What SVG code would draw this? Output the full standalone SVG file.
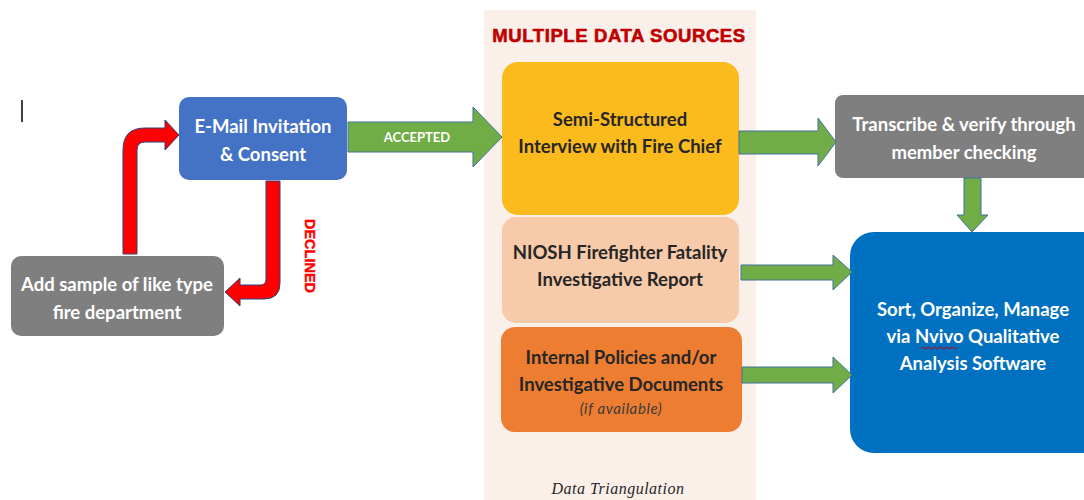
<svg xmlns="http://www.w3.org/2000/svg" width="1084" height="500" viewBox="0 0 1084 500">
<style>
.t{font-family:Lato,"Liberation Sans",sans-serif;font-weight:bold;text-anchor:middle}
.w{fill:#ffffff;font-size:18.5px}
.d{fill:#262626;font-size:18.5px}
.g{fill:#70ad47;stroke:#41719c;stroke-width:1}
.r{fill:#ff0000;stroke:#2f3f7f;stroke-width:1}
</style>
<rect width="1084" height="500" fill="#ffffff"/>
<line x1="22" y1="100" x2="22" y2="122" stroke="#000" stroke-width="1.5"/>
<g id="column">
<rect x="484" y="10" width="272" height="490" fill="#fbefea"/>
<text x="619" y="42" font-family="Liberation Sans,sans-serif" font-weight="bold" font-size="18.5" letter-spacing="0.6" fill="#c00000" stroke="#c00000" stroke-width="0.6" text-anchor="middle">MULTIPLE DATA SOURCES</text>
<text x="618" y="494" font-family="Liberation Serif,serif" font-style="italic" font-size="16" letter-spacing="0.5" fill="#262626" text-anchor="middle">Data Triangulation</text>
</g>
<g id="email">
<rect x="179" y="97" width="168" height="83" rx="10" fill="#4472c4"/>
<text class="t w" x="263" y="133">E-Mail Invitation</text>
<text class="t w" x="263" y="161">&amp; Consent</text>
</g>
<g id="sample">
<rect x="11" y="256" width="213" height="80" rx="10" fill="#7f7f7f"/>
<text class="t w" x="117" y="291">Add sample of like type</text>
<text class="t w" x="117" y="319">fire department</text>
</g>
<g id="interview">
<rect x="502" y="62" width="237" height="153" rx="16" fill="#fbbb1c"/>
<text class="t d" x="620" y="126">Semi-Structured</text>
<text class="t d" x="620" y="153">Interview with Fire Chief</text>
</g>
<g id="niosh">
<rect x="502" y="217" width="237" height="106" rx="14" fill="#f7caa9"/>
<text class="t d" x="620" y="259">NIOSH Firefighter Fatality</text>
<text class="t d" x="620" y="286">Investigative Report</text>
</g>
<g id="internal">
<rect x="501" y="327" width="241" height="105" rx="14" fill="#ed7d31"/>
<text class="t d" x="621" y="364">Internal Policies and/or</text>
<text class="t d" x="621" y="391">Investigative Documents</text>
<text x="621" y="414" font-family="Lato,Liberation Sans,sans-serif" font-style="italic" font-size="15" letter-spacing="0.6" fill="#3a3a3a" text-anchor="middle">(if available)</text>
</g>
<g id="transcribe">
<rect x="835" y="95" width="260" height="83" rx="8" fill="#7f7f7f"/>
<text class="t w" x="964" y="131">Transcribe &amp; verify through</text>
<text class="t w" x="964" y="159">member checking</text>
</g>
<g id="sort">
<rect x="850" y="232" width="260" height="221" rx="24" fill="#0070c0"/>
<text class="t w" x="973" y="316">Sort, Organize, Manage</text>
<text class="t w" x="973" y="343">via Nvivo Qualitative</text>
<text class="t w" x="973" y="370">Analysis Software</text>
<path d="M921,348 q1.5,-2 3,0 t3,0 t3,0 t3,0 t3,0 t3,0 t3,0 t3,0 t3,0 t3,0 t3,0 t3,0" fill="none" stroke="#c00000" stroke-width="1"/>
</g>
<g id="connectors">
<path class="r" d="M123,254 L123,150 Q123,128 145,128 L165,128 L165,120 L179,135 L165,150 L165,142 L145,142 Q137,142 137,150 L137,254 Z"/>
<path class="r" d="M266,181 L280,181 L280,283 Q280,299 264,299 L240,299 L240,306 L225,292 L240,278 L240,285 L260,285 Q266,285 266,279 Z"/>
<text x="309" y="256" transform="rotate(90 309 256)" font-family="Liberation Sans,sans-serif" font-weight="bold" font-size="14.5" fill="#ff0000" stroke="#ff0000" stroke-width="0.4" text-anchor="middle" dominant-baseline="middle">DECLINED</text>
<path class="g" d="M348,122 L473,122 L473,107 L502,137 L473,167 L473,152 L348,152 Z"/>
<text x="417" y="142" font-family="Lato,Liberation Sans,sans-serif" font-weight="bold" font-size="13" fill="#ffffff" text-anchor="middle">ACCEPTED</text>
<path class="g" d="M739,131 L818,131 L818,118 L836,142 L818,166 L818,154 L739,154 Z"/>
<path class="g" d="M964,178 L981,178 L981,215 L988,215 L972,232 L957,215 L964,215 Z"/>
<path class="g" d="M741,265 L833,265 L833,255 L852,272 L833,290 L833,280 L741,280 Z"/>
<path class="g" d="M742,367 L833,367 L833,357 L852,375 L833,393 L833,383 L742,383 Z"/>
</g>
</svg>
